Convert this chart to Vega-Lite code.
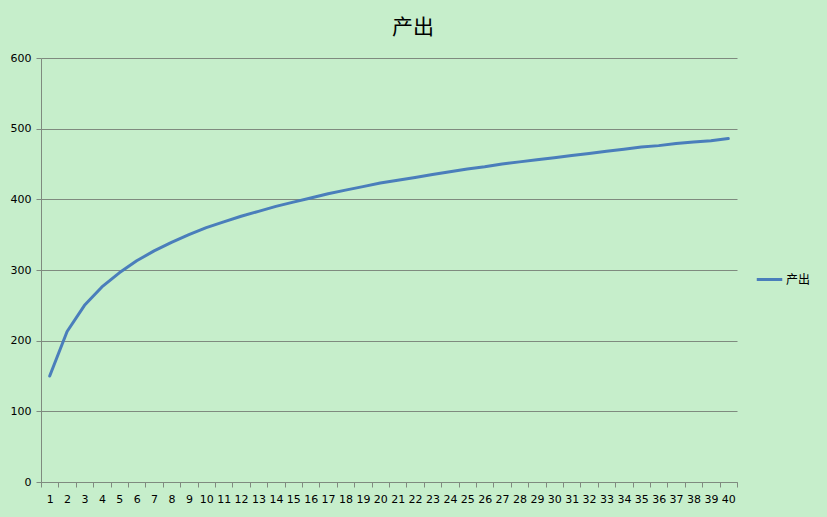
{
  "$schema": "https://vega.github.io/schema/vega-lite/v6.json",
  "width": 696,
  "height": 424,
  "autosize": {"type": "none"},
  "padding": {"left": 41, "top": 58, "right": 90, "bottom": 35},
  "background": "#C6EECB",
  "title": {
    "text": "产出",
    "font": "Noto Sans CJK SC",
    "fontSize": 21,
    "fontWeight": "normal",
    "color": "#000000",
    "anchor": "middle",
    "dx": 24,
    "offset": 14
  },
  "data": {
    "values": [
      {"x": 1, "y": 150, "s": "产出"},
      {"x": 2, "y": 213, "s": "产出"},
      {"x": 3, "y": 250, "s": "产出"},
      {"x": 4, "y": 276, "s": "产出"},
      {"x": 5, "y": 296, "s": "产出"},
      {"x": 6, "y": 313, "s": "产出"},
      {"x": 7, "y": 327, "s": "产出"},
      {"x": 8, "y": 339, "s": "产出"},
      {"x": 9, "y": 350, "s": "产出"},
      {"x": 10, "y": 360, "s": "产出"},
      {"x": 11, "y": 368, "s": "产出"},
      {"x": 12, "y": 376, "s": "产出"},
      {"x": 13, "y": 383, "s": "产出"},
      {"x": 14, "y": 390, "s": "产出"},
      {"x": 15, "y": 396, "s": "产出"},
      {"x": 16, "y": 402, "s": "产出"},
      {"x": 17, "y": 408, "s": "产出"},
      {"x": 18, "y": 413, "s": "产出"},
      {"x": 19, "y": 418, "s": "产出"},
      {"x": 20, "y": 423, "s": "产出"},
      {"x": 21, "y": 427, "s": "产出"},
      {"x": 22, "y": 431, "s": "产出"},
      {"x": 23, "y": 435, "s": "产出"},
      {"x": 24, "y": 439, "s": "产出"},
      {"x": 25, "y": 443, "s": "产出"},
      {"x": 26, "y": 446, "s": "产出"},
      {"x": 27, "y": 450, "s": "产出"},
      {"x": 28, "y": 453, "s": "产出"},
      {"x": 29, "y": 456, "s": "产出"},
      {"x": 30, "y": 459, "s": "产出"},
      {"x": 31, "y": 462, "s": "产出"},
      {"x": 32, "y": 465, "s": "产出"},
      {"x": 33, "y": 468, "s": "产出"},
      {"x": 34, "y": 471, "s": "产出"},
      {"x": 35, "y": 474, "s": "产出"},
      {"x": 36, "y": 476, "s": "产出"},
      {"x": 37, "y": 479, "s": "产出"},
      {"x": 38, "y": 481, "s": "产出"},
      {"x": 39, "y": 483, "s": "产出"},
      {"x": 40, "y": 486, "s": "产出"}
    ]
  },
  "mark": {"type": "line", "strokeWidth": 3, "strokeCap": "round", "strokeJoin": "round"},
  "encoding": {
    "x": {
      "field": "x",
      "type": "ordinal",
      "bandPosition": 0.5,
      "scale": {"type": "band", "paddingInner": 0, "paddingOuter": 0},
      "axis": {
        "title": null,
        "labelAngle": 0,
        "labelFont": "DejaVu Sans",
        "labelFontSize": 11,
        "labelColor": "#000000",
        "labelPadding": 6,
        "tickBand": "extent",
        "tickSize": 5,
        "tickColor": "#7F8A7F",
        "domainColor": "#7F8A7F",
        "grid": false
      }
    },
    "y": {
      "field": "y",
      "type": "quantitative",
      "scale": {"domain": [0, 600], "nice": false},
      "axis": {
        "title": null,
        "values": [0, 100, 200, 300, 400, 500, 600],
        "labelFont": "DejaVu Sans",
        "labelFontSize": 11,
        "labelColor": "#000000",
        "labelPadding": 5,
        "tickSize": 5,
        "tickColor": "#7F8A7F",
        "domainColor": "#7F8A7F",
        "grid": true,
        "gridColor": "#7F8A7F",
        "gridOpacity": 1
      }
    },
    "color": {
      "field": "s",
      "type": "nominal",
      "scale": {"range": ["#4A7EBB"]},
      "legend": {
        "title": null,
        "orient": "none",
        "legendX": 714,
        "legendY": 207,
        "symbolType": "stroke",
        "symbolStrokeWidth": 3,
        "symbolSize": 650,
        "labelFont": "Noto Sans CJK SC",
        "labelFontSize": 12,
        "labelColor": "#000000",
        "labelOffset": 2
      }
    }
  },
  "config": {
    "view": {"stroke": null}
  }
}
